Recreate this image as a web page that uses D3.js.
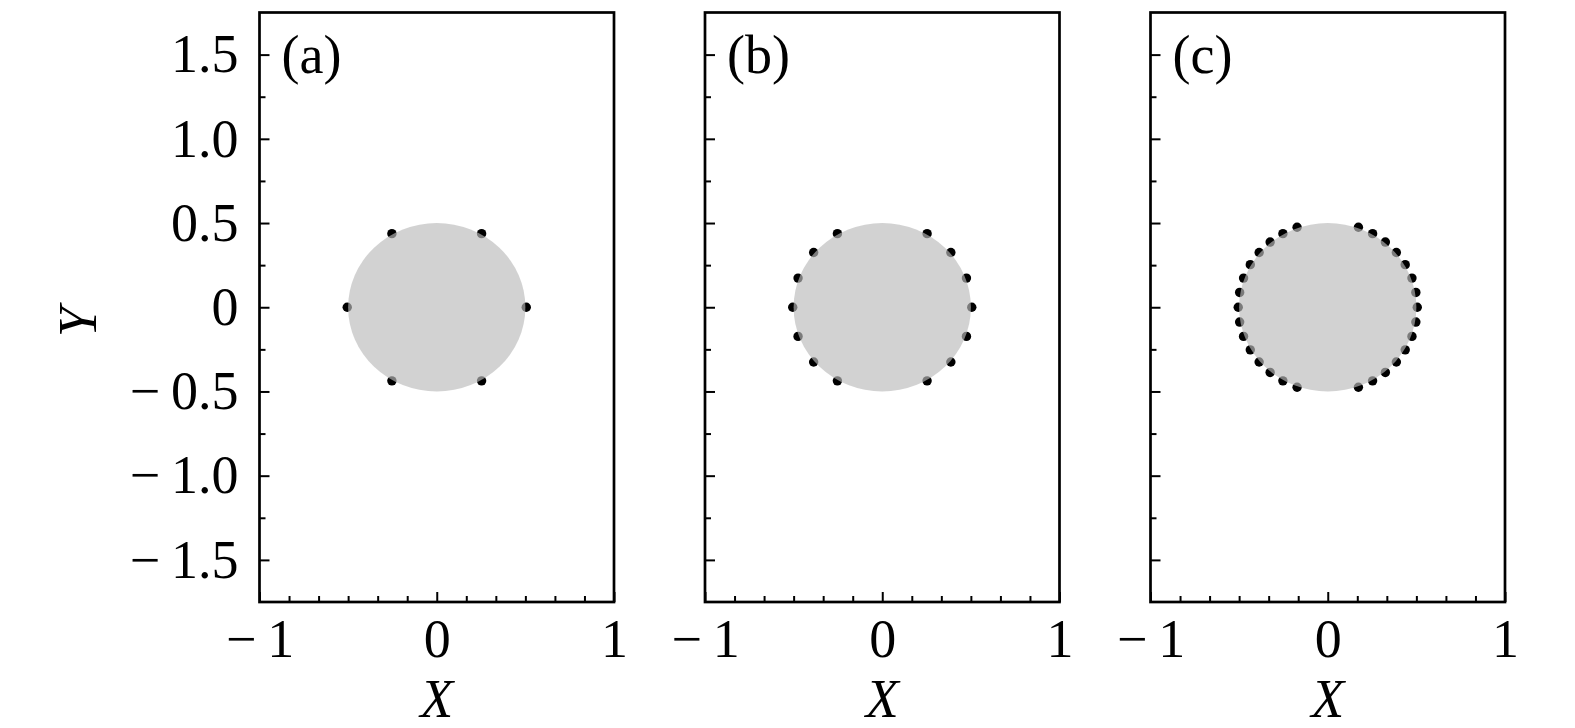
<!DOCTYPE html>
<html><head><meta charset="utf-8">
<script src="https://cdn.jsdelivr.net/npm/d3@7"></script>
<style>
html,body{margin:0;padding:0;background:#fff;}
text{font-family:"Liberation Serif","Times New Roman",serif;fill:#000;}
</style></head>
<body><svg id="chart" width="1575" height="728"></svg>
<script>
// ---- data ----
const panelLabels = ["(a)", "(b)", "(c)"];
const diskRadius = 0.5;
const aX = [0.505, 0.253, -0.253, -0.505, -0.253, 0.253];
const aY = [0, 0.437, 0.437, 0, -0.437, -0.437];
const bX = [0.253, 0.387, 0.475, 0.505, 0.475, 0.387, 0.253, -0.253, -0.387, -0.475, -0.505, -0.475, -0.387, -0.253];
const bY = [0.437, 0.325, 0.173, 0, -0.173, -0.325, -0.437, 0.437, 0.325, 0.173, 0, -0.173, -0.325, -0.437];
const cX = [0.173, 0.253, 0.325, 0.387, 0.437, 0.475, 0.497, 0.505, 0.497, 0.475, 0.437, 0.387, 0.325, 0.253, 0.173,
            -0.173, -0.253, -0.325, -0.387, -0.437, -0.475, -0.497, -0.505, -0.497, -0.475, -0.437, -0.387, -0.325, -0.253, -0.173];
const cY = [0.475, 0.437, 0.387, 0.325, 0.253, 0.173, 0.088, 0, -0.088, -0.173, -0.253, -0.325, -0.387, -0.437, -0.475,
            0.475, 0.437, 0.387, 0.325, 0.253, 0.173, 0.088, 0, -0.088, -0.173, -0.253, -0.325, -0.387, -0.437, -0.475];
const xMajorTicks = [-1, 0, 1];
const xTickLabels = ["\u2212\u20091", "0", "1"];
const xMinorTicks = [-5/6, -4/6, -3/6, -2/6, -1/6, 1/6, 2/6, 3/6, 4/6, 5/6];
const yMajorTicks = [1.5, 1.0, 0.5, 0, -0.5, -1.0, -1.5];
const yTickLabels = ["1.5", "1.0", "0.5", "0", "\u2212\u20090.5", "\u2212\u20091.0", "\u2212\u20091.5"];
const yMinorTicks = [1.25, 0.75, 0.25, -0.25, -0.75, -1.25];
const xDomain = [-1, 1];
const yDomain = [-1.75, 1.75];

const panels = [
  {label: panelLabels[0], xs: aX, ys: aY},
  {label: panelLabels[1], xs: bX, ys: bY},
  {label: panelLabels[2], xs: cX, ys: cY}
];

// ---- layout ----
const svg = d3.select("#chart");
const panelLefts = [259.5, 705, 1150.5];
const pw = 354.5, plotTop = 12.5, plotBottom = 602;
const fs = 54;

const y = d3.scaleLinear().domain(yDomain).range([plotBottom, plotTop]);

panels.forEach((p, i) => {
  const left = panelLefts[i];
  const x = d3.scaleLinear().domain(xDomain).range([left, left + pw]);
  const g = svg.append("g");

  // dots (drawn under the translucent disk)
  g.selectAll("circle.dot").data(p.xs.map((v, k) => [v, p.ys[k]]))
    .enter().append("circle")
    .attr("class", "dot")
    .attr("cx", d => x(d[0])).attr("cy", d => y(d[1]))
    .attr("r", 4.7).attr("fill", "#000");

  // disk
  g.append("ellipse")
    .attr("cx", x(0)).attr("cy", y(0))
    .attr("rx", x(diskRadius) - x(0)).attr("ry", y(0) - y(diskRadius))
    .attr("fill", "#bbbbbb").attr("fill-opacity", 0.66);

  // y axis (left)
  const yMaj = g.append("g").attr("transform", `translate(${left},0)`)
    .call(d3.axisLeft(y).tickValues(yMajorTicks).tickSize(-10).tickPadding(0)
      .tickFormat((d, k) => i === 0 ? yTickLabels[k] : ""));
  yMaj.select(".domain").remove();
  yMaj.selectAll(".tick line").attr("stroke", "#000").attr("stroke-width", 2);
  yMaj.selectAll(".tick text").attr("x", -21).attr("dy", "0.32em")
    .attr("font-size", fs).attr("font-family", "Liberation Serif").attr("text-anchor", "end");
  const yMin = g.append("g").attr("transform", `translate(${left},0)`)
    .call(d3.axisLeft(y).tickValues(yMinorTicks).tickSize(-6).tickFormat(""));
  yMin.select(".domain").remove();
  yMin.selectAll(".tick line").attr("stroke", "#000").attr("stroke-width", 2);

  // x axis (bottom)
  const xMaj = g.append("g").attr("transform", `translate(0,${plotBottom})`)
    .call(d3.axisBottom(x).tickValues(xMajorTicks).tickSize(-10)
      .tickFormat((d, k) => xTickLabels[k]));
  xMaj.select(".domain").remove();
  xMaj.selectAll(".tick line").attr("stroke", "#000").attr("stroke-width", 2);
  xMaj.selectAll(".tick text").attr("y", 55).attr("dy", 0)
    .attr("font-size", fs).attr("font-family", "Liberation Serif");
  const xMin = g.append("g").attr("transform", `translate(0,${plotBottom})`)
    .call(d3.axisBottom(x).tickValues(xMinorTicks).tickSize(-6).tickFormat(""));
  xMin.select(".domain").remove();
  xMin.selectAll(".tick line").attr("stroke", "#000").attr("stroke-width", 2);

  // frame
  g.append("rect").attr("x", left).attr("y", plotTop).attr("width", pw).attr("height", plotBottom - plotTop)
    .attr("fill", "none").attr("stroke", "#000").attr("stroke-width", 2.7);

  // panel label
  g.append("text").attr("x", left + 22).attr("y", 73)
    .attr("font-size", fs).text(p.label);

  // X label
  g.append("text").attr("x", x(0)).attr("y", 717).attr("text-anchor", "middle")
    .attr("font-size", fs).attr("font-style", "italic").text("X");
});

// Y label
svg.append("text").attr("transform", "translate(96,322) rotate(-90)")
  .attr("text-anchor", "middle").attr("font-size", fs).attr("font-style", "italic").text("Y");
</script></body></html>
